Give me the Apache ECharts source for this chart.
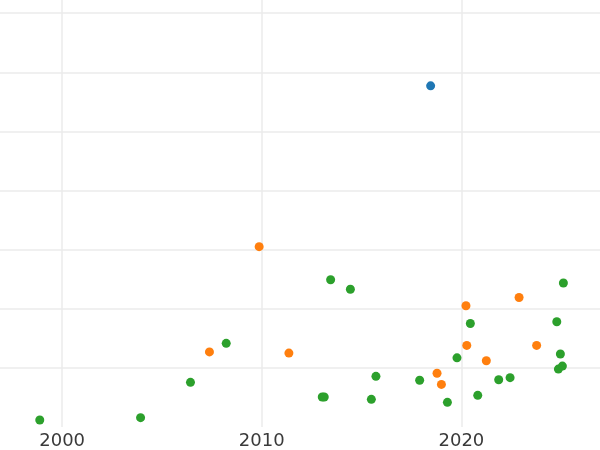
<!DOCTYPE html>
<html>
<head>
<meta charset="utf-8">
<script src="https://cdn.jsdelivr.net/npm/echarts@6/dist/echarts.min.js"></script>
<style>html,body{margin:0;padding:0;background:#fff;}#c{width:600px;height:450px;}</style>
</head>
<body>
<div id="c"></div>
<script>
var xTicks = [1990, 2000, 2010, 2020, 2030];

var blueYears = [2018.46];
var blueValues = [5.77];

var orangeYears = [2009.87, 2007.38, 2011.36, 2020.23, 2022.89, 2020.27, 2023.77, 2021.25, 2018.78, 2019.0];
var orangeValues = [3.05, 1.27, 1.25, 2.05, 2.19, 1.38, 1.38, 1.12, 0.91, 0.72];

var greenYears = [1998.88, 2003.93, 2006.43, 2008.22, 2013.45, 2014.44, 2015.72, 2013.03, 2013.13, 2015.49, 2017.91, 2019.30, 2019.78, 2020.45, 2020.82, 2021.87, 2022.44, 2025.11, 2024.78, 2024.96, 2024.86, 2025.06];
var greenValues = [0.118, 0.158, 0.755, 1.415, 2.49, 2.33, 0.857, 0.507, 0.507, 0.468, 0.79, 0.417, 1.17, 1.75, 0.535, 0.80, 0.835, 2.435, 1.78, 1.235, 0.98, 1.03];

function pairs(xs, ys) { return xs.map(function (x, i) { return [x, ys[i]]; }); }

var chart = echarts.init(document.getElementById('c'), null, {renderer: 'canvas'});
chart.setOption({
  animation: false,
  backgroundColor: '#fff',
  grid: {left: -137.5, right: -61, top: -46, bottom: 23, containLabel: false, outerBoundsMode: 'none'},
  xAxis: {
    type: 'value', min: xTicks[0], max: xTicks[xTicks.length - 1], interval: 10,
    axisLine: {show: false}, axisTick: {show: false},
    axisLabel: {margin: 5, fontSize: 18, color: '#3a3a3a', fontFamily: 'DejaVu Sans', formatter: function (v) { return String(v); }},
    splitLine: {show: true, lineStyle: {color: '#ebebeb', width: 1.5}}
  },
  yAxis: {
    type: 'value', min: 0, max: 8, interval: 1,
    axisLine: {show: false}, axisTick: {show: false}, axisLabel: {show: false},
    splitLine: {show: true, showMinLine: false, lineStyle: {color: '#ebebeb', width: 1.5}}
  },
  series: [
    {type: 'scatter', data: pairs(blueYears, blueValues), symbolSize: 9, itemStyle: {color: '#1f77b4', opacity: 1}},
    {type: 'scatter', data: pairs(orangeYears, orangeValues), symbolSize: 9, itemStyle: {color: '#ff7f0e', opacity: 1}},
    {type: 'scatter', data: pairs(greenYears, greenValues), symbolSize: 9, itemStyle: {color: '#2ca02c', opacity: 1}}
  ]
});
</script>
</body>
</html>
